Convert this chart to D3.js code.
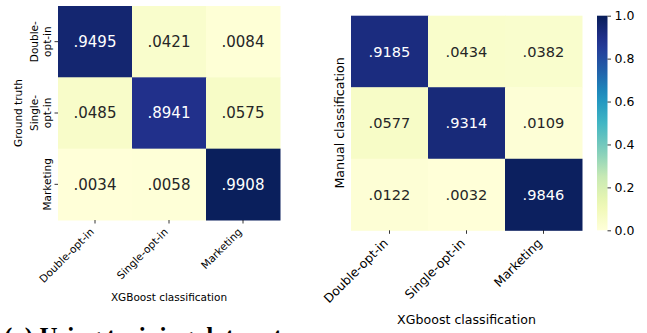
<!DOCTYPE html>
<html>
<head>
<meta charset="utf-8">
<script src="https://cdn.jsdelivr.net/npm/d3@7"></script>
<style>
  html, body { margin: 0; padding: 0; background: #fff; }
  svg { display: block; }
  text { font-family: "DejaVu Sans", sans-serif; }
</style>
</head>
<body>
<svg id="chart" width="647" height="333"></svg>
<script>
// Class names along each axis
const classes = ["Double-opt-in", "Single-opt-in", "Marketing"];
// Two-line row labels for the left matrix
const rowLabelLines = [["Double-", "opt-in"], ["Single-", "opt-in"], ["Marketing"]];

// Normalised confusion matrices (rows = truth / manual, columns = predicted)
const trainMatrix = [
  [0.9495, 0.0421, 0.0084],
  [0.0485, 0.8941, 0.0575],
  [0.0034, 0.0058, 0.9908]
];
const manualMatrix = [
  [0.9185, 0.0434, 0.0382],
  [0.0577, 0.9314, 0.0109],
  [0.0122, 0.0032, 0.9846]
];

// Colour bar ticks
const colorbarTicks = [0.0, 0.2, 0.4, 0.6, 0.8, 1.0];

// YlGnBu palette stops, linearly interpolated between 0 and 1
const ylgnbu = ["#ffffd9", "#edf8b1", "#c7e9b4", "#7fcdbb", "#41b6c4",
                "#1d91c0", "#225ea8", "#253494", "#081d58"];
const color = d3.scaleLinear()
  .domain(ylgnbu.map((_, i) => i / (ylgnbu.length - 1)))
  .range(ylgnbu)
  .interpolate(d3.interpolateRgb)
  .clamp(true);

const fmt = v => d3.format(".4f")(v).replace(/^0/, "");

const svg = d3.select("#chart");

function heatmap(opts) {
  const { matrix, x0, x1, y0, y1, annSize, tickSize, xTitle, xTitleY, labelSize } = opts;
  const g = svg.append("g");
  const idx = d3.range(classes.length);
  const x = d3.scaleBand().domain(idx).range([x0, x1]);
  const y = d3.scaleBand().domain(idx).range([y0, y1]);

  const cells = [];
  matrix.forEach((row, r) => row.forEach((v, c) => cells.push({ r, c, v })));

  g.selectAll("rect.cell").data(cells).join("rect")
    .attr("class", "cell")
    .attr("x", d => x(d.c))
    .attr("y", d => y(d.r))
    .attr("width", x.bandwidth() + 0.5)
    .attr("height", y.bandwidth() + 0.5)
    .attr("fill", d => color(d.v));

  g.selectAll("text.ann").data(cells).join("text")
    .attr("class", "ann")
    .attr("x", d => x(d.c) + x.bandwidth() / 2)
    .attr("y", d => y(d.r) + y.bandwidth() / 2)
    .attr("text-anchor", "middle")
    .attr("dy", "0.36em")
    .attr("font-size", annSize)
    .attr("fill", d => d.v > 0.5 ? "#ffffff" : "#262626")
    .text(d => fmt(d.v));

  // Bottom axis: tick marks and 45° labels
  g.selectAll("line.xtick").data(idx).join("line")
    .attr("x1", d => x(d) + x.bandwidth() / 2)
    .attr("x2", d => x(d) + x.bandwidth() / 2)
    .attr("y1", y1).attr("y2", y1 + 3.5)
    .attr("stroke", "#000").attr("stroke-width", 0.8);

  const h = tickSize * 0.95;
  g.selectAll("text.xlab").data(idx).join("text")
    .attr("class", "xlab")
    .attr("font-size", tickSize)
    .attr("text-anchor", "end")
    .attr("transform", d => {
      const tx = x(d) + x.bandwidth() / 2 - h * 0.707 + 1;
      const ty = y1 + 3.5 + 3.5;
      return `translate(${tx},${ty}) rotate(-45)`;
    })
    .attr("dy", "0.76em")
    .attr("fill", "#000")
    .text(d => classes[d]);

  g.append("text")
    .attr("x", (x0 + x1) / 2)
    .attr("y", xTitleY)
    .attr("text-anchor", "middle")
    .attr("font-size", labelSize)
    .attr("fill", "#000")
    .text(xTitle);

  return { g, x, y };
}

// Left matrix: training data
const left = heatmap({
  matrix: trainMatrix, x0: 58, x1: 280, y0: 6, y1: 220,
  annSize: 15, tickSize: 10.5, labelSize: 10.5,
  xTitle: "XGBoost classification", xTitleY: 301
});

// Row ticks and stacked, rotated row labels
left.g.selectAll("line.ytick").data(d3.range(3)).join("line")
  .attr("x1", 54.5).attr("x2", 58)
  .attr("y1", d => left.y(d) + left.y.bandwidth() / 2)
  .attr("y2", d => left.y(d) + left.y.bandwidth() / 2)
  .attr("stroke", "#000").attr("stroke-width", 0.8);

const lineGap = 12.8;
left.g.selectAll("g.ylab").data(d3.range(3)).join("g")
  .attr("class", "ylab")
  .attr("transform", d => `translate(${50.5},${left.y(d) + left.y.bandwidth() / 2}) rotate(-90)`)
  .each(function (d) {
    const lines = rowLabelLines[d];
    const n = lines.length;
    d3.select(this).selectAll("text").data(lines).join("text")
      .attr("x", 0)
      .attr("y", (_, i) => -(n - 1 - i) * lineGap)
      .attr("text-anchor", "middle")
      .attr("font-size", 10.5)
      .attr("fill", "#000")
      .text(t => t);
  });

left.g.append("text")
  .attr("transform", `translate(21.5,${(6 + 220) / 2}) rotate(-90)`)
  .attr("text-anchor", "middle")
  .attr("font-size", 10.5)
  .attr("fill", "#000")
  .text("Ground truth");

// Right matrix: manual classification
const right = heatmap({
  matrix: manualMatrix, x0: 351, x1: 582, y0: 15.7, y1: 230.3,
  annSize: 14.6, tickSize: 12.4, labelSize: 12.6,
  xTitle: "XGboost classification", xTitleY: 324
});

right.g.append("text")
  .attr("transform", `translate(344,${(15.7 + 230.3) / 2}) rotate(-90)`)
  .attr("text-anchor", "middle")
  .attr("font-size", 12.6)
  .attr("fill", "#000")
  .text("Manual classification");

// Colour bar
const cbX = 597, cbW = 10.5, cbTop = 15.7, cbBottom = 230.3;
const cbScale = d3.scaleLinear().domain([0, 1]).range([cbBottom, cbTop]);
const defs = svg.append("defs");
const grad = defs.append("linearGradient")
  .attr("id", "cbgrad").attr("x1", 0).attr("y1", 1).attr("x2", 0).attr("y2", 0);
d3.range(0, 1.0001, 0.05).forEach(t => {
  grad.append("stop").attr("offset", t).attr("stop-color", color(t));
});
svg.append("rect")
  .attr("x", cbX).attr("y", cbTop)
  .attr("width", cbW).attr("height", cbBottom - cbTop)
  .attr("fill", "url(#cbgrad)");

const cbAxis = d3.axisRight(cbScale)
  .tickValues(colorbarTicks)
  .tickFormat(d3.format(".1f"))
  .tickSize(3.5)
  .tickPadding(3.5);
const cbg = svg.append("g")
  .attr("transform", `translate(${cbX + cbW},0)`)
  .call(cbAxis);
cbg.select(".domain").remove();
cbg.selectAll(".tick line").attr("stroke", "#000").attr("stroke-width", 0.8);
cbg.selectAll(".tick text")
  .attr("font-family", "DejaVu Sans, sans-serif")
  .attr("font-size", 12.5)
  .attr("fill", "#000");

// Sub-figure caption along the lower edge (only its top shows inside the frame)
svg.append("text")
  .attr("x", 4)
  .attr("y", 345)
  .attr("font-weight", "bold")
  .attr("font-size", 25)
  .attr("fill", "#000")
  .style("font-family", "'Liberation Serif', serif")
  .text("(a) Using training data set");
</script>
</body>
</html>
